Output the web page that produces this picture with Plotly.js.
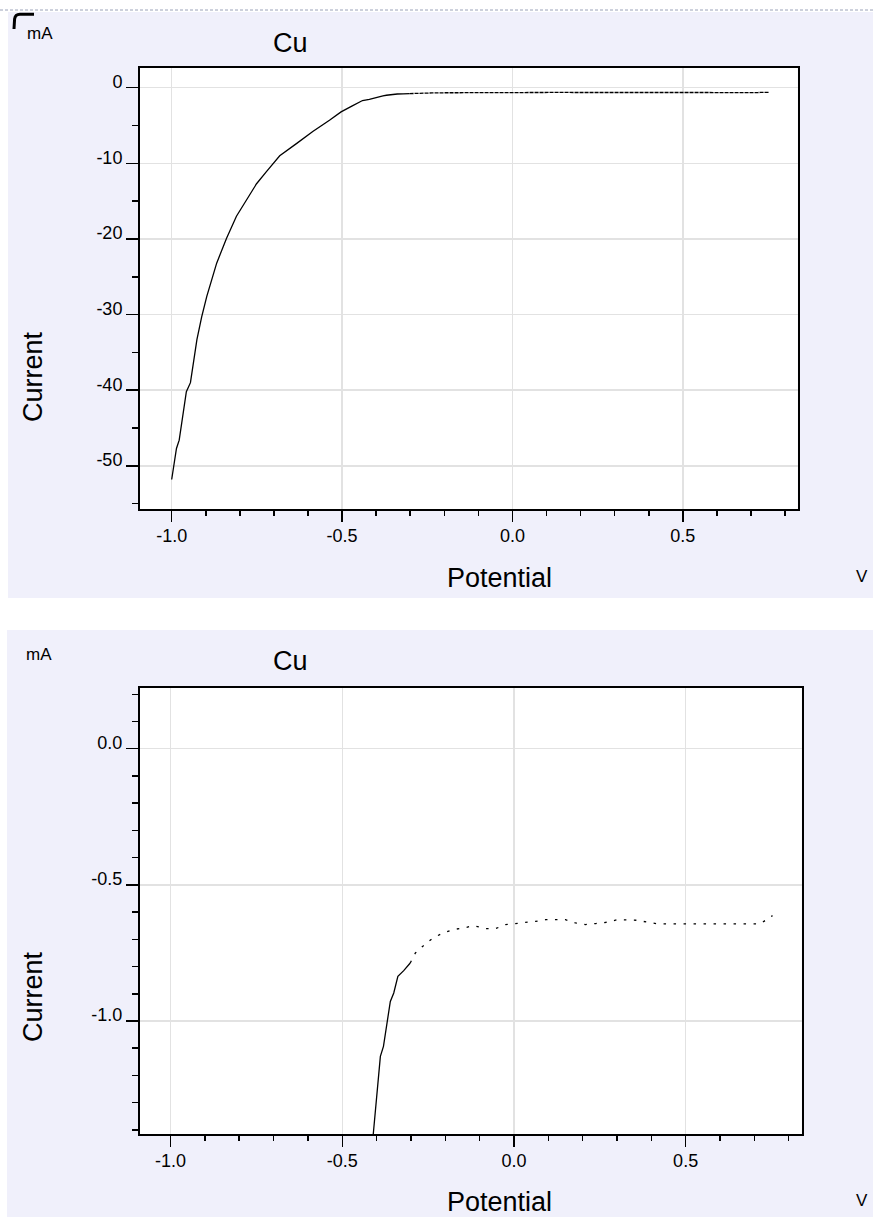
<!DOCTYPE html>
<html>
<head>
<meta charset="utf-8">
<script src="https://cdn.plot.ly/plotly-3.0.1.min.js"></script>
<style>
  html, body { margin: 0; padding: 0; background: #ffffff; }
  #chart { width: 873px; height: 1217px; }
</style>
</head>
<body>
<div id="chart"></div>
<script>
// ---- Data (Potential in V, Current in mA) ----
var potential = [-1.000, -0.990, -0.986, -0.978, -0.970, -0.957, -0.945, -0.936, -0.926, -0.912,
  -0.897, -0.868, -0.839, -0.810, -0.780, -0.751, -0.722, -0.683, -0.634, -0.586,
  -0.537, -0.503, -0.470, -0.440, -0.420, -0.409, -0.399, -0.389, -0.380, -0.370,
  -0.360, -0.350, -0.338, -0.321, -0.302, -0.287, -0.268, -0.236, -0.205, -0.176,
  -0.146, -0.117, -0.083, -0.054, -0.025, 0.004, 0.034, 0.063, 0.092, 0.121,
  0.150, 0.179, 0.208, 0.238, 0.272, 0.301, 0.330, 0.359, 0.388, 0.417,
  0.447, 0.500, 0.550, 0.600, 0.650, 0.700, 0.719, 0.728, 0.753];
var current = [-51.8, -49.0, -47.7, -46.6, -44.0, -40.2, -39.0, -36.0, -33.3, -30.3,
  -27.6, -23.2, -19.9, -17.0, -14.8, -12.7, -11.1, -9.0, -7.4, -5.8,
  -4.3, -3.2, -2.4, -1.7, -1.55, -1.406, -1.253, -1.130, -1.093, -1.001,
  -0.928, -0.897, -0.836, -0.815, -0.787, -0.750, -0.728, -0.695, -0.676, -0.664,
  -0.658, -0.650, -0.661, -0.661, -0.646, -0.642, -0.640, -0.634, -0.628, -0.628,
  -0.628, -0.640, -0.646, -0.642, -0.637, -0.628, -0.628, -0.630, -0.637, -0.643,
  -0.643, -0.643, -0.643, -0.643, -0.643, -0.643, -0.643, -0.634, -0.613];

// ---- Tick labels ----
var xTickVals = [-1.0, -0.5, 0.0, 0.5];
var xTickText = ["-1.0", "-0.5", "0.0", "0.5"];
var yTickValsTop = [0, -10, -20, -30, -40, -50];
var yTickTextTop = ["0", "-10", "-20", "-30", "-40", "-50"];
var yTickValsBottom = [0.0, -0.5, -1.0];
var yTickTextBottom = ["0.0", "-0.5", "-1.0"];

var chartTitle = "Cu";
var xTitle = "Potential";
var yTitle = "Current";
var xUnit = "V";
var yUnit = "mA";

// index where the trace starts to be drawn broken (flat plateau)
var splitIdx = potential.indexOf(-0.302);

var W = 873, H = 1217;
function px(v) { return v / W; }
function py(v) { return 1 - v / H; }

var FONT = "Liberation Sans, Arial, Helvetica, sans-serif";

var traces = [
  { x: potential.slice(0, splitIdx + 1), y: current.slice(0, splitIdx + 1), xaxis: "x", yaxis: "y",
    mode: "lines", line: { color: "#000000", width: 1.3 }, hoverinfo: "skip" },
  { x: potential.slice(splitIdx), y: current.slice(splitIdx), xaxis: "x", yaxis: "y",
    mode: "lines", line: { color: "#000000", width: 1.3, dash: "4px,1px" }, hoverinfo: "skip" },
  { x: potential.slice(0, splitIdx + 1), y: current.slice(0, splitIdx + 1), xaxis: "x2", yaxis: "y2",
    mode: "lines", line: { color: "#000000", width: 1.3 }, hoverinfo: "skip" },
  { x: potential.slice(splitIdx), y: current.slice(splitIdx), xaxis: "x2", yaxis: "y2",
    mode: "lines", line: { color: "#000000", width: 1.3, dash: "2.5px,7.5px" }, hoverinfo: "skip" }
];

function xAxis(domain, range, anchor) {
  return {
    domain: domain, range: range, anchor: anchor,
    tickmode: "array", tickvals: xTickVals, ticktext: xTickText,
    ticks: "outside", ticklen: 11, tickwidth: 1.5, tickcolor: "#000000",
    ticklabelstandoff: -2,
    showline: true, mirror: true, linecolor: "#000000", linewidth: 2,
    showgrid: true, gridcolor: "#e2e2e2", gridwidth: 1.5, zeroline: false,
    minor: { tickmode: "linear", dtick: 0.1, tick0: 0, ticks: "outside", ticklen: 5, tickwidth: 1.5, tickcolor: "#000000", showgrid: false },
    tickfont: { family: FONT, size: 18, color: "#000000" },
    fixedrange: true
  };
}
function yAxis(domain, range, anchor, vals, text, minorDtick) {
  return {
    domain: domain, range: range, anchor: anchor,
    tickmode: "array", tickvals: vals, ticktext: text,
    ticks: "outside", ticklen: 12, tickwidth: 1.5, tickcolor: "#000000",
    ticklabelshift: -6,
    showline: true, mirror: true, linecolor: "#000000", linewidth: 2,
    showgrid: true, gridcolor: "#e2e2e2", gridwidth: 1.5, zeroline: false,
    minor: { tickmode: "linear", dtick: minorDtick, tick0: 0, ticks: "outside", ticklen: 6, tickwidth: 1.5, tickcolor: "#000000", showgrid: false },
    tickfont: { family: FONT, size: 18, color: "#000000" },
    fixedrange: true
  };
}

var PANEL = "#f0f0fb";

var shapes = [
  // panel backgrounds
  { type: "rect", xref: "paper", yref: "paper", x0: px(8), x1: 1, y0: py(598), y1: py(12),
    fillcolor: PANEL, line: { width: 0 }, layer: "below" },
  { type: "rect", xref: "paper", yref: "paper", x0: px(7), x1: 1, y0: 0, y1: py(630),
    fillcolor: PANEL, line: { width: 0 }, layer: "below" },
  // plot area backgrounds
  { type: "rect", xref: "x domain", yref: "y domain", x0: 0, x1: 1, y0: 0, y1: 1,
    fillcolor: "#ffffff", line: { width: 0 }, layer: "below" },
  { type: "rect", xref: "x2 domain", yref: "y2 domain", x0: 0, x1: 1, y0: 0, y1: 1,
    fillcolor: "#ffffff", line: { width: 0 }, layer: "below" },
  // dashed line at very top
  { type: "line", xref: "paper", yref: "paper", x0: 0, x1: 1, y0: py(10), y1: py(10),
    line: { color: "#9aa2b8", width: 1, dash: "3px,2px" } },
  // corner glyph top-left
  { type: "path", xref: "paper", yref: "paper",
    path: "M " + px(14) + "," + py(29) + " L " + px(14.6) + "," + py(19) +
          " Q " + px(15.2) + "," + py(14.2) + " " + px(20) + "," + py(14.2) +
          " L " + px(34) + "," + py(14.2),
    line: { color: "#000000", width: 3 } }
];

function ann(text, x, y, size, angle) {
  return { text: text, xref: "paper", yref: "paper", x: x, y: y,
    xanchor: "center", yanchor: "middle", showarrow: false, textangle: angle || 0,
    font: { family: FONT, size: size, color: "#000000" } };
}

var annotations = [
  ann(chartTitle, px(290), py(43), 27),
  ann(yUnit, px(40), py(34), 17),
  ann(yTitle, px(33), py(377), 27, -90),
  ann(xTitle, px(500), py(578), 27),
  ann(xUnit, px(862), py(576), 17),

  ann(chartTitle, px(290), py(661), 27),
  ann(yUnit, px(39), py(654), 17),
  ann(yTitle, px(33), py(997), 27, -90),
  ann(xTitle, px(500), py(1202), 27),
  ann(xUnit, px(862), py(1200), 17)
];

var layout = {
  width: W, height: H,
  margin: { l: 0, r: 0, t: 0, b: 0 },
  paper_bgcolor: "#ffffff",
  plot_bgcolor: "#ffffff",
  showlegend: false,
  font: { family: FONT, color: "#000000" },
  xaxis: xAxis([px(140), px(797.7)], [-1.093, 0.837], "y"),
  yaxis: yAxis([py(509), py(68)], [-55.7, 2.6], "x", yTickValsTop, yTickTextTop, 5),
  xaxis2: xAxis([px(140), px(801.7)], [-1.089, 0.838], "y2"),
  yaxis2: yAxis([py(1134), py(688)], [-1.415, 0.223], "x2", yTickValsBottom, yTickTextBottom, 0.1),
  shapes: shapes,
  annotations: annotations
};

Plotly.newPlot("chart", traces, layout, { staticPlot: true, displayModeBar: false });
</script>
</body>
</html>
